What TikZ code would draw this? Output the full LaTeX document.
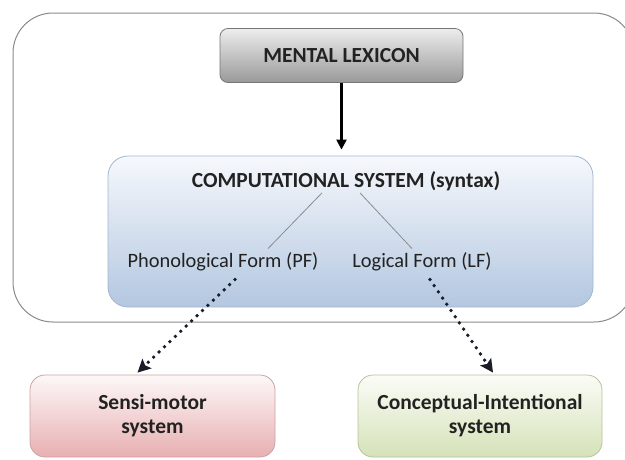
\documentclass[tikz,border=0pt]{standalone}
\usepackage{fontspec}
\setmainfont{Carlito}
\usetikzlibrary{arrows.meta,calc}

\definecolor{txt}{HTML}{222222}
\definecolor{frame}{HTML}{8A8A8A}
\definecolor{lexTop}{HTML}{EDEDED}
\definecolor{lexBot}{HTML}{999999}
\definecolor{lexLine}{HTML}{777777}
\definecolor{csTop}{HTML}{F6F8FC}
\definecolor{csBot}{HTML}{B3C7E0}
\definecolor{csLine}{HTML}{A3B6CF}
\definecolor{smTop}{HTML}{FDF8F8}
\definecolor{smBot}{HTML}{E8AFB1}
\definecolor{smLine}{HTML}{C9A3A4}
\definecolor{ciTop}{HTML}{FBFCF7}
\definecolor{ciBot}{HTML}{D5E2B8}
\definecolor{ciLine}{HTML}{B5C39C}
\definecolor{treeLine}{HTML}{8C8C8C}
\definecolor{dots}{HTML}{1A1D28}

\tikzset{
  regfont/.style={font=\fontsize{20.4}{24}\selectfont, text=txt},
  boldfont/.style={font=\fontsize{21.5}{24}\selectfont\bfseries, text=txt},
  box/.style={draw, rounded corners=#1, line width=0.8pt, inner sep=0pt, boldfont, align=center},
  lexbox/.style={box=8pt, draw=lexLine, top color=lexTop, bottom color=lexBot,
                 minimum width=243pt, minimum height=54pt},
  csbox/.style={box=20pt, draw=csLine, top color=csTop, bottom color=csBot,
                minimum width=485pt, minimum height=151pt},
  smbox/.style={box=15pt, draw=smLine, top color=smTop, bottom color=smBot,
                minimum width=245pt, minimum height=82pt},
  cibox/.style={box=15pt, draw=ciLine, top color=ciTop, bottom color=ciBot,
                minimum width=244pt, minimum height=82pt},
  plain/.style={inner sep=0pt, regfont},
  branch/.style={draw=treeLine, line width=0.8pt},
  solidarrow/.style={line width=2.2pt, -{Triangle[length=10pt,width=10pt]}},
  dotarrow/.style={draw=dots, line width=3.8pt, line cap=round, dash pattern=on 0pt off 7.5pt,
                   -{Stealth[length=13pt,width=13pt,inset=2.5pt]}},
}

\begin{document}
\begin{tikzpicture}[x=1pt, y=-1pt]
  \useasboundingbox (0,0) rectangle (625,459);

  % outer frame around the language faculty
  \draw[frame, line width=1pt, rounded corners=40pt] (13,13) rectangle (634,322);

  % boxes
  \node[lexbox] (lex) at (341.5,55.5) {MENTAL LEXICON};
  \node[csbox] (cs) at (350.5,231.5) {};
  \node[smbox] (sm) at (152.5,416) {Sensi-motor\\system};
  \node[cibox] (ci) at (480,416) {Conceptual-Intentional\\system};

  % contents of the computational system
  \node[plain, boldfont] (cstitle) at (346,181) {COMPUTATIONAL SYSTEM (syntax)};
  \node[plain] (pf) at (223,262) {Phonological Form (PF)};
  \node[plain] (lf) at (422,262) {Logical Form (LF)};

  \draw[branch] ($(cstitle.south)+(-24,2)$) -- ($(pf.north)+(45,-4)$);
  \draw[branch] ($(cstitle.south)+(14,2)$) -- ($(lf.north)+(-10,-4)$);

  % connectors
  \draw[solidarrow] (lex.south) -- ($(lex.south |- cs.north)+(0,-6)$);
  \draw[dotarrow] ($(pf.south)+(12,8)$) -- ($(sm.north)+(-15,-2)$);
  \draw[dotarrow] ($(lf.south)+(8,8)$) -- ($(ci.north)+(13,-2)$);
\end{tikzpicture}
\end{document}
